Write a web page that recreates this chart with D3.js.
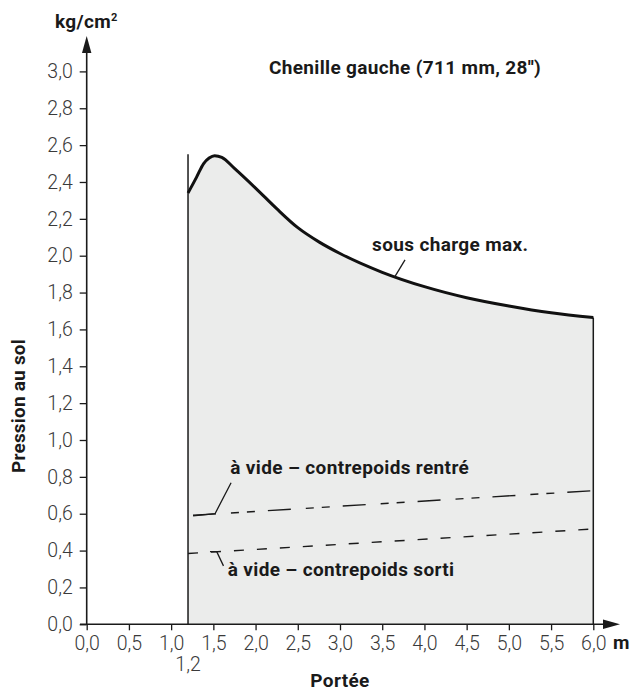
<!DOCTYPE html>
<html><head><meta charset="utf-8">
<script src="https://cdn.jsdelivr.net/npm/d3@7"></script>
<style>
body{margin:0;background:#fff}
text{font-family:Roboto,"Liberation Sans",sans-serif}
</style>
</head><body><svg id="c" width="631" height="691"></svg>
<script>
// ---- data ----
const xTicks = [0, 0.5, 1, 1.5, 2, 2.5, 3, 3.5, 4, 4.5, 5, 5.5, 6];
const yTicks = [0, 0.2, 0.4, 0.6, 0.8, 1.0, 1.2, 1.4, 1.6, 1.8, 2.0, 2.2, 2.4, 2.6, 2.8, 3.0];
const loadReach = [1.2, 1.3, 1.385, 1.45, 1.515, 1.6, 1.75, 2.0, 2.25, 2.5, 2.75, 3.0, 3.5, 4.0, 4.5, 5.0, 5.5, 6.0];
const loadPressure = [2.34, 2.425, 2.50, 2.53, 2.543, 2.534, 2.474, 2.367, 2.255, 2.152, 2.075, 2.012, 1.91, 1.832, 1.772, 1.727, 1.69, 1.664];
const retractedReach = [1.2, 6.0];
const retractedPressure = [0.59, 0.725];
const extendedReach = [1.2, 6.0];
const extendedPressure = [0.384, 0.517];
const minReach = 1.2, maxReach = 6.0, minReachTop = 2.55;
const title = "Chenille gauche (711 mm, 28'')";
const labelLoad = "sous charge max.";
const labelRetracted = "à vide – contrepoids rentré";
const labelExtended = "à vide – contrepoids sorti";

// ---- chart ----
const svg = d3.select("#c");
const x = d3.scaleLinear().domain([0, 6]).range([86.7, 593.3]);
const y = d3.scaleLinear().domain([0, 3]).range([624.3, 71.4]);
const fmt = d => d.toFixed(1).replace(".", ",");
const ink = "#1a1a1a";

const loadData = loadReach.map((r, i) => [r, loadPressure[i]]);
const curve = d3.curveMonotoneX;

svg.append("path")
  .attr("d", d3.area().x(d => x(d[0])).y0(y(0)).y1(d => y(d[1])).curve(curve)(loadData))
  .attr("fill", "#ebeceb");

const lineGen = d3.line().x(d => x(d[0])).y(d => y(d[1]));
svg.append("path")
  .attr("d", lineGen(retractedReach.map((r, i) => [r, retractedPressure[i]])))
  .attr("fill", "none").attr("stroke", ink).attr("stroke-width", 1.4)
  .attr("stroke-dasharray", "23,15,8,8,8,13").attr("stroke-dashoffset", 70);
svg.append("path")
  .attr("d", lineGen(extendedReach.map((r, i) => [r, extendedPressure[i]])))
  .attr("fill", "none").attr("stroke", ink).attr("stroke-width", 1.4)
  .attr("stroke-dasharray", "10,13").attr("stroke-dashoffset", 0);

// vertical boundary lines
svg.append("line").attr("x1", x(minReach)).attr("x2", x(minReach))
  .attr("y1", y(0)).attr("y2", y(minReachTop)).attr("stroke", ink).attr("stroke-width", 1.5);
svg.append("line").attr("x1", x(maxReach)).attr("x2", x(maxReach))
  .attr("y1", y(0)).attr("y2", y(loadPressure[loadPressure.length - 1])).attr("stroke", ink).attr("stroke-width", 1.5);

// load curve
svg.append("path")
  .attr("d", d3.line().x(d => x(d[0])).y(d => y(d[1])).curve(curve)(loadData))
  .attr("fill", "none").attr("stroke", "#111").attr("stroke-width", 3).attr("stroke-linejoin", "round");

// axes
const yAxis = svg.append("g").attr("transform", `translate(${x(0)},0)`)
  .call(d3.axisLeft(y).tickValues(yTicks).tickSize(7).tickPadding(7).tickFormat(fmt));
const xAxis = svg.append("g").attr("transform", `translate(0,${y(0)})`)
  .call(d3.axisBottom(x).tickValues(xTicks).tickSize(6).tickPadding(6).tickFormat(fmt));
[yAxis, xAxis].forEach(g => {
  g.attr("font-family", null).attr("font-size", null);
  g.select(".domain").remove();
  g.selectAll(".tick line").attr("stroke", ink).attr("stroke-width", 1.3);
  g.selectAll(".tick text").attr("font-size", 19.5).attr("fill", "#3a3a3a")
    .attr("font-family", "Roboto, sans-serif").style("font-weight", 300);
});

// axis lines with arrows
svg.append("line").attr("x1", x(0)).attr("x2", x(0)).attr("y1", y(0)).attr("y2", 50)
  .attr("stroke", ink).attr("stroke-width", 1.6);
svg.append("path").attr("d", `M${x(0)},36 L${x(0) - 4.7},53 L${x(0) + 4.7},53 Z`).attr("fill", ink);
svg.append("line").attr("x1", 80).attr("x2", 606).attr("y1", y(0)).attr("y2", y(0))
  .attr("stroke", ink).attr("stroke-width", 1.6);
svg.append("path").attr("d", `M620,${y(0)} L603,${y(0) - 4.7} L603,${y(0) + 4.7} Z`).attr("fill", ink);

// extra x label 1,2
svg.append("text").attr("x", x(minReach)).attr("y", 670.7).attr("text-anchor", "middle")
  .attr("font-size", 19.5).attr("fill", "#3a3a3a").style("font-weight", 300).text(fmt(minReach));

const bold = (t, px, py, anchor, size) => svg.append("text").attr("x", px).attr("y", py)
  .attr("text-anchor", anchor || "start").attr("font-size", size || 19).attr("font-weight", "bold")
  .attr("letter-spacing", 0.35).attr("fill", "#1a1a1a").text(t);

// units & titles
bold("m", 613, 649, "start", 19);
bold("Portée", (x(0) + x(6)) / 2, 686.5, "middle", 19);
const kg = bold("kg/cm", 55, 28, "start", 19);
kg.append("tspan").attr("font-size", 11).attr("dy", -7).text("2");
svg.append("text").attr("transform", `translate(25,${406}) rotate(-90)`)
  .attr("text-anchor", "middle").attr("font-size", 19).attr("font-weight", "bold")
  .attr("letter-spacing", 0.2).attr("fill", "#1a1a1a").text("Pression au sol");
bold(title, x(3.77), 74, "middle", 19);

// annotations
bold(labelLoad, x(3.38), y(2.026), "start", 19);
svg.append("path").attr("d", `M${x(3.65)},${y(1.886)} L${x(3.77)},${y(1.977)}`)
  .attr("stroke", ink).attr("stroke-width", 1.3).attr("fill", "none");
bold(labelRetracted, x(1.70), y(0.817), "start", 19);
svg.append("path").attr("d", `M${x(1.26)},${y(0.588)} L${x(1.52)},${y(0.60)} L${x(1.71)},${y(0.768)}`)
  .attr("stroke", ink).attr("stroke-width", 1.3).attr("fill", "none");
bold(labelExtended, x(1.67), y(0.263), "start", 19);
svg.append("path").attr("d", `M${x(1.46)},${y(0.394)} L${x(1.54)},${y(0.394)} L${x(1.62)},${y(0.317)}`)
  .attr("stroke", ink).attr("stroke-width", 1.3).attr("fill", "none");
</script></body></html>
